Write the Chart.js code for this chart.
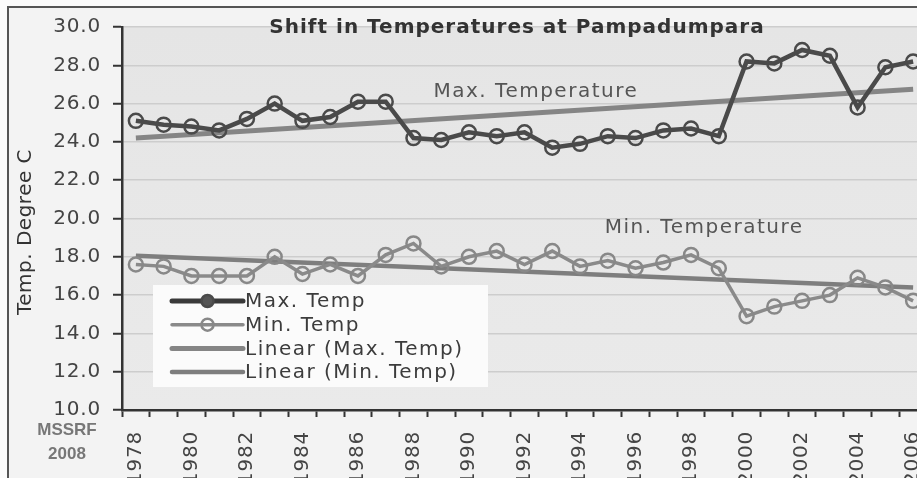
<!DOCTYPE html>
<html><head><meta charset="utf-8">
<script src="https://cdn.jsdelivr.net/npm/chart.js@4.4.1/dist/chart.umd.min.js"></script>
<style>html,body{margin:0;padding:0;overflow:hidden;background:#fbfbfb;width:917px;height:478px}canvas{display:block}</style>
</head><body><canvas id="c" width="940" height="478"></canvas>
<script>
// ---- data ----
const years = ['1978','1979','1980','1981','1982','1983','1984','1985','1986','1987','1988','1989','1990','1991','1992','1993','1994','1995','1996','1997','1998','1999','2000','2001','2002','2003','2004','2005','2006'];
const maxTemp = [25.1,24.9,24.8,24.6,25.2,26.0,25.1,25.3,26.1,26.1,24.2,24.1,24.5,24.3,24.5,23.7,23.9,24.3,24.2,24.6,24.7,24.3,28.2,28.1,28.8,28.5,25.8,27.9,28.2];
const minTemp = [17.6,17.5,17.0,17.0,17.0,18.0,17.1,17.6,17.0,18.1,18.7,17.5,18.0,18.3,17.6,18.3,17.5,17.8,17.4,17.7,18.1,17.4,14.9,15.4,15.7,16.0,16.9,16.4,15.7];
const maxTrendEnds = [24.2, 26.75];   // linear trend, first and last year
const minTrendEnds = [18.05, 16.4];
const seriesNames = ['Max. Temp','Min. Temp','Linear (Max. Temp)','Linear (Min. Temp)'];
const yMin = 10, yMax = 30, yStep = 2;
const chartTitle = 'Shift in Temperatures at Pampadumpara';
const yTitle = 'Temp. Degree C';
const sourceNote = ['MSSRF','2008'];
const curveNotes = ['Max. Temperature','Min. Temperature'];

const FONT = "'DejaVu Sans', sans-serif";
Chart.defaults.font.family = FONT;

const trendData = (ends) => [{x: years[0], y: ends[0]}, {x: years[years.length-1], y: ends[1]}];

const deco = {
  id: 'deco',
  beforeDraw(chart) {
    const {ctx, chartArea: a} = chart;
    ctx.save();
    ctx.fillStyle = '#fbfbfb'; ctx.fillRect(0, 0, chart.width, chart.height);
    ctx.fillStyle = '#f3f3f3'; ctx.fillRect(8, 7, chart.width, chart.height);
    ctx.strokeStyle = '#555'; ctx.lineWidth = 2;
    ctx.beginPath(); ctx.moveTo(8, chart.height + 5); ctx.lineTo(8, 7); ctx.lineTo(chart.width + 5, 7); ctx.stroke();
    const g = ctx.createLinearGradient(0, a.top, 0, a.bottom);
    g.addColorStop(0, '#e5e5e5'); g.addColorStop(1, '#eaeaea');
    ctx.fillStyle = g; ctx.fillRect(a.left, a.top, a.right - a.left, a.bottom - a.top);
    ctx.restore();
    ctx.letterSpacing = '0.8px';
  },
  afterDraw(chart) {
    const {ctx, chartArea: a, scales: {x, y}} = chart;
    ctx.save();
    // title
    ctx.letterSpacing = '1px';
    ctx.font = 'bold 20px ' + FONT; ctx.fillStyle = '#333';
    ctx.textAlign = 'center'; ctx.textBaseline = 'middle';
    ctx.fillText(chartTitle, a.left + 395, a.top + 1);
    // curve notes
    ctx.letterSpacing = '1.5px';
    ctx.font = '20px ' + FONT; ctx.fillStyle = '#555';
    ctx.fillText(curveNotes[0], x.getPixelForValue(14.41), y.getPixelForValue(26.6));
    ctx.fillText(curveNotes[1], x.getPixelForValue(20.47), y.getPixelForValue(19.5));
    // y title
    ctx.letterSpacing = '0.5px';
    ctx.save();
    ctx.translate(a.left - 96, a.top + 205);
    ctx.rotate(-Math.PI / 2);
    ctx.fillStyle = '#333';
    ctx.fillText(yTitle, 0, 0);
    ctx.restore();
    // source note
    ctx.letterSpacing = '0px';
    ctx.font = "bold 17px 'Liberation Sans', sans-serif"; ctx.fillStyle = '#777';
    ctx.fillText(sourceNote[0], a.left - 55, a.bottom + 20);
    ctx.fillText(sourceNote[1], a.left - 55, a.bottom + 44);
    // legend
    const bx = a.left + 31, by = a.top + 258, bw = 335, bh = 102;
    ctx.fillStyle = '#fbfbfb';
    ctx.fillRect(bx, by, bw, bh);
    ctx.letterSpacing = '1.5px';
    ctx.font = '20px ' + FONT; ctx.textAlign = 'left';
    const ds = chart.data.datasets;
    for (let i = 0; i < ds.length; i++) {
      const d = ds[i];
      const ry = by + 16 + i * 23.7;
      const x0 = bx + 19, x1 = bx + 90, xm = (x0 + x1) / 2;
      ctx.strokeStyle = d.legendLine || d.borderColor;
      ctx.lineWidth = d.legendWidth || d.borderWidth;
      ctx.lineCap = 'round';
      ctx.beginPath(); ctx.moveTo(x0, ry); ctx.lineTo(x1, ry); ctx.stroke();
      if (d.pointRadius) {
        ctx.beginPath(); ctx.arc(xm, ry, d.pointRadius - 1, 0, Math.PI * 2);
        ctx.fillStyle = d.legendFill || 'rgba(0,0,0,0)';
        ctx.fill();
        ctx.lineWidth = d.pointBorderWidth; ctx.strokeStyle = d.pointBorderColor;
        ctx.stroke();
      }
      ctx.fillStyle = '#3c3c3c';
      ctx.fillText(d.label, x1 + 2, ry + 1);
    }
    ctx.restore();
  }
};

new Chart(document.getElementById('c'), {
  type: 'line',
  data: {
    labels: years,
    datasets: [
      { label: seriesNames[0], data: maxTemp, borderColor: '#4a4a4a', borderWidth: 4.5,
        pointRadius: 7, pointBorderWidth: 2.5, pointBorderColor: '#4a4a4a', pointBackgroundColor: 'rgba(0,0,0,0)',
        legendLine: '#3a3a3a', legendWidth: 5, legendFill: '#555' },
      { label: seriesNames[1], data: minTemp, borderColor: '#8a8a8a', borderWidth: 3.5,
        pointRadius: 7, pointBorderWidth: 2.5, pointBorderColor: '#888', pointBackgroundColor: 'rgba(0,0,0,0)' },
      { label: seriesNames[2], data: trendData(maxTrendEnds), borderColor: '#858585', borderWidth: 5, pointRadius: 0 },
      { label: seriesNames[3], data: trendData(minTrendEnds), borderColor: '#7e7e7e', borderWidth: 4.5, pointRadius: 0 }
    ]
  },
  options: {
    responsive: false, animation: false, devicePixelRatio: 1,
    layout: { padding: { left: 0, top: 27, right: 13, bottom: 0 } },
    elements: { line: { tension: 0 } },
    plugins: { legend: { display: false }, title: { display: false }, tooltip: { enabled: false } },
    scales: {
      x: {
        type: 'category', offset: true,
        grid: { offset: true, drawOnChartArea: false, drawTicks: true, tickLength: 7, tickColor: '#333', tickWidth: 2 },
        border: { display: true, color: '#333', width: 2.5 },
        ticks: { autoSkip: false, minRotation: 90, maxRotation: 90, padding: 14, color: '#444', font: { size: 20 },
          callback: (v, i) => (i % 2 === 0 ? years[i] : '') },
        afterFit: (s) => { s.height = 68; s.paddingLeft = 0; s.paddingRight = 0; }
      },
      y: {
        min: yMin, max: yMax,
        grid: { color: '#cdcdcd', lineWidth: 1.5, tickLength: 9, tickColor: '#333', tickWidth: 2 },
        border: { display: true, color: '#333', width: 2.5 },
        ticks: { stepSize: yStep, padding: 12, color: '#444', font: { size: 20 }, callback: (v) => v.toFixed(1) },
        afterFit: (s) => { s.width = 122; s.paddingTop = 0; s.paddingBottom = 0; }
      }
    }
  },
  plugins: [deco]
});
</script>
</body></html>
